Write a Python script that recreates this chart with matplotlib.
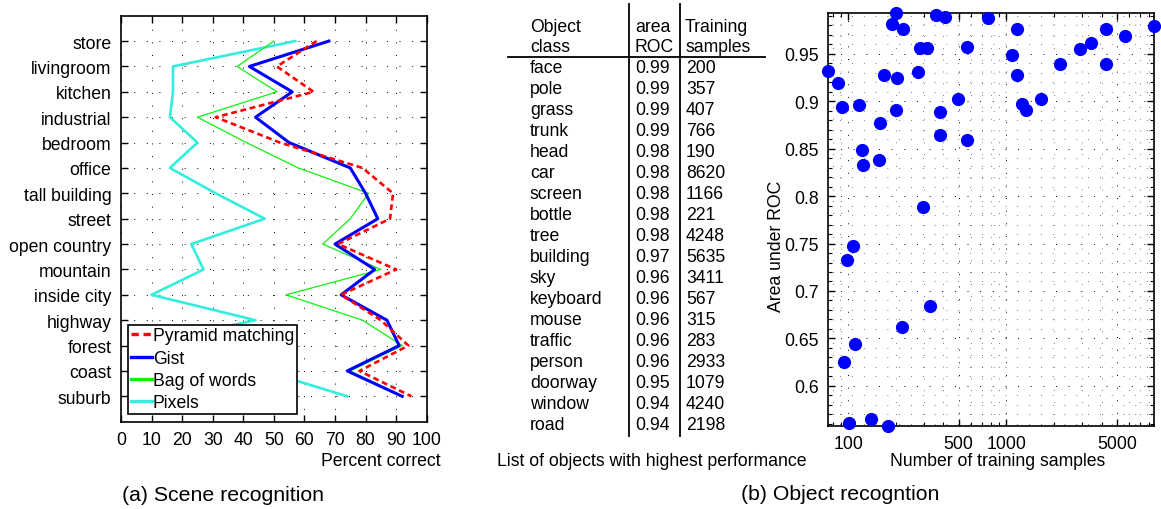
import matplotlib
matplotlib.use("Agg")
import matplotlib.pyplot as plt
from matplotlib.lines import Line2D
from matplotlib.ticker import FixedLocator, NullFormatter

plt.rcParams['font.family'] = ['Liberation Sans', 'DejaVu Sans']

# ---------------- scene recognition data ----------------
scene_classes = ['store', 'livingroom', 'kitchen', 'industrial', 'bedroom', 'office',
                 'tall building', 'street', 'open country', 'mountain', 'inside city',
                 'highway', 'forest', 'coast', 'suburb']
pyramid_matching = [64, 51, 63, 31, 52, 79, 89, 88, 71, 90, 72, 85, 94, 78, 95]
gist = [68, 42, 56, 44, 55, 75, 80, 84, 70, 83, 72, 87, 91, 74, 92]
bag_of_words = [50, 38, 51, 25, 41, 58, 81, 75, 66, 85, 54, 79, 92, 75, 92]
pixels = [57, 17, 17, 16, 25, 16, 31, 47, 23, 27, 10, 44, 5, 47, 74]
percent_ticks = list(range(0, 101, 10))

# ---------------- object recognition table ----------------
object_names = ['face', 'pole', 'grass', 'trunk', 'head', 'car', 'screen', 'bottle', 'tree',
                'building', 'sky', 'keyboard', 'mouse', 'traffic', 'person', 'doorway',
                'window', 'road']
object_roc = ['0.99', '0.99', '0.99', '0.99', '0.98', '0.98', '0.98', '0.98', '0.98',
              '0.97', '0.96', '0.96', '0.96', '0.96', '0.96', '0.95', '0.94', '0.94']
object_samples = [200, 357, 407, 766, 190, 8620, 1166, 221, 4248, 5635, 3411, 567, 315,
                  283, 2933, 1079, 4240, 2198]

# ---------------- object recognition scatter ----------------
n_training = [75, 87, 92, 117, 160, 123, 125, 157, 168, 204, 202, 200, 190, 221, 278, 283,
              315, 297, 357, 407, 380, 380, 493, 567, 564, 766, 1079, 1166, 1167, 1265,
              1338, 1647, 2198, 2933, 3411, 4248, 4240, 5635, 8620, 107, 98, 331, 220,
              110, 94, 101, 139, 179]
area_roc = [0.932, 0.919, 0.894, 0.8965, 0.877, 0.849, 0.833, 0.838, 0.928, 0.925, 0.891,
            0.993, 0.981, 0.976, 0.931, 0.956, 0.956, 0.788, 0.991, 0.989, 0.889, 0.864,
            0.902, 0.957, 0.859, 0.988, 0.949, 0.976, 0.928, 0.897, 0.891, 0.9025, 0.939,
            0.955, 0.961, 0.976, 0.9395, 0.969, 0.979, 0.747, 0.733, 0.684, 0.662, 0.644,
            0.625, 0.5605, 0.565, 0.558]
roc_ticks = [0.6, 0.65, 0.7, 0.75, 0.8, 0.85, 0.9, 0.95]
sample_ticks = [100, 500, 1000, 5000]

W, H = 1161, 510
fig = plt.figure(figsize=(W / 100, H / 100), dpi=100)


def px_box(left, top, right, bottom):
    return [left / W, 1 - bottom / H, (right - left) / W, (bottom - top) / H]


def fx(x):
    return x / W


def fy(y):
    return 1 - y / H


FS = 12.7
CAP = 15.3
DOT = (0, (1, 12))

# ---------------- (a) scene recognition ----------------
ax1 = fig.add_axes(px_box(121, 16.7, 426.7, 422.7))
n = len(scene_classes)
ypos = [n - i for i in range(n)]
ax1.plot(pixels, ypos, color='#33EEDD', lw=1.9, label='Pixels', zorder=3)
ax1.plot(bag_of_words, ypos, color='#11F011', lw=0.9, label='Bag of words', zorder=4)
ax1.plot(gist, ypos, color='#0000FF', lw=2.2, label='Gist', zorder=5)
ax1.plot(pyramid_matching, ypos, color='#FF0000', lw=1.9, dashes=(2.2, 1.4),
         label='Pyramid matching', zorder=6)
ax1.set_xlim(0, 100)
ax1.set_ylim(0, n + 1)
ax1.set_xticks(percent_ticks)
ax1.set_yticks(ypos)
ax1.set_yticklabels(scene_classes)
ax1.tick_params(direction='in', top=True, right=True, length=5, width=1,
                labelsize=FS, pad=7)
ax1.grid(True, color='black', lw=0.7, linestyle=DOT)
for s in ax1.spines.values():
    s.set_linewidth(1.2)

handles, labels = ax1.get_legend_handles_labels()
order = [3, 2, 1, 0]
leg = fig.legend([handles[i] for i in order], [labels[i] for i in order],
                 loc='lower left', bbox_to_anchor=(fx(128), fy(415)),
                 fontsize=FS, frameon=True, fancybox=False, framealpha=1,
                 edgecolor='black', borderpad=0.15, borderaxespad=0,
                 handlelength=1.2, handletextpad=0.05, labelspacing=0.3)
leg.get_frame().set_linewidth(1.2)
for ln in leg.get_lines():
    ln.set_linewidth(2.4)

fig.text(fx(381), fy(462), 'Percent correct', ha='center', va='center', fontsize=FS)
fig.text(fx(223), fy(496), '(a) Scene recognition', ha='center', va='center', fontsize=CAP)

# ---------------- table of best object classes ----------------
col_name, col_roc, col_samp = 530, 635, 686
fig.text(fx(col_name), fy(27), 'Object', ha='left', va='center', fontsize=FS)
fig.text(fx(col_name), fy(47), 'class', ha='left', va='center', fontsize=FS)
fig.text(fx(col_roc), fy(27), 'area', ha='left', va='center', fontsize=FS)
fig.text(fx(col_roc), fy(47), 'ROC', ha='left', va='center', fontsize=FS)
fig.text(fx(col_samp - 1), fy(27), 'Training', ha='left', va='center', fontsize=FS)
fig.text(fx(col_samp - 1), fy(47), 'samples', ha='left', va='center', fontsize=FS)
row0, dy = 68.5, 20.98
for i, (nm, r, s) in enumerate(zip(object_names, object_roc, object_samples)):
    y = fy(row0 + i * dy)
    fig.text(fx(col_name), y, nm, ha='left', va='center', fontsize=FS)
    fig.text(fx(col_roc), y, r, ha='left', va='center', fontsize=FS)
    fig.text(fx(col_samp), y, str(s), ha='left', va='center', fontsize=FS)
for xv in (629, 680):
    fig.add_artist(Line2D([fx(xv), fx(xv)], [fy(5), fy(437)], color='black', lw=1.3,
                          transform=fig.transFigure))
fig.add_artist(Line2D([fx(508), fx(765)], [fy(57.7), fy(57.7)], color='black', lw=1.3,
                      transform=fig.transFigure))
fig.text(fx(651.5), fy(462), 'List of objects with highest performance',
         ha='center', va='center', fontsize=FS)

# ---------------- (b) area under ROC vs training samples ----------------
ax2 = fig.add_axes(px_box(828.3, 14, 1154.3, 426.7))
ax2.plot(n_training, area_roc, 'o', color='#0000FF', ms=9.5, mew=0, clip_on=False,
         zorder=5)
ax2.set_xscale('log')
ax2.set_xlim(min(n_training), max(n_training))
ax2.set_ylim(min(area_roc), max(area_roc))
ax2.xaxis.set_major_locator(FixedLocator(sample_ticks))
ax2.set_xticklabels([str(t) for t in sample_ticks])
minor_x = [v * 10 ** k for k in (1, 2, 3) for v in range(2, 10)]
ax2.xaxis.set_minor_locator(FixedLocator(minor_x))
ax2.xaxis.set_minor_formatter(NullFormatter())
ax2.set_yticks(roc_ticks)
ax2.set_yticklabels(['0.6', '0.65', '0.7', '0.75', '0.8', '0.85', '0.9', '0.95'])
ax2.yaxis.set_minor_locator(FixedLocator([0.56 + 0.01 * k for k in range(44)]))
ax2.tick_params(which='major', direction='in', top=True, right=True, length=5, width=1,
                labelsize=FS, pad=7)
ax2.tick_params(which='minor', direction='in', top=True, right=True, length=3, width=0.8)
ax2.grid(True, which='major', color='black', lw=0.7, linestyle=DOT)
ax2.grid(True, which='minor', color='black', lw=0.5, linestyle=(0, (1, 16)))
for s in ax2.spines.values():
    s.set_linewidth(1.2)
ax2.set_ylabel('Area under ROC', fontsize=FS)
ax2.yaxis.set_label_coords((785 - 828.3) / 326.0, (426.7 - 246) / 412.7)
fig.text(fx(998), fy(462), 'Number of training samples', ha='center', va='center',
         fontsize=FS)
fig.text(fx(840), fy(495), '(b) Object recogntion', ha='center', va='center', fontsize=CAP)

fig.savefig('out.png', dpi=100)
